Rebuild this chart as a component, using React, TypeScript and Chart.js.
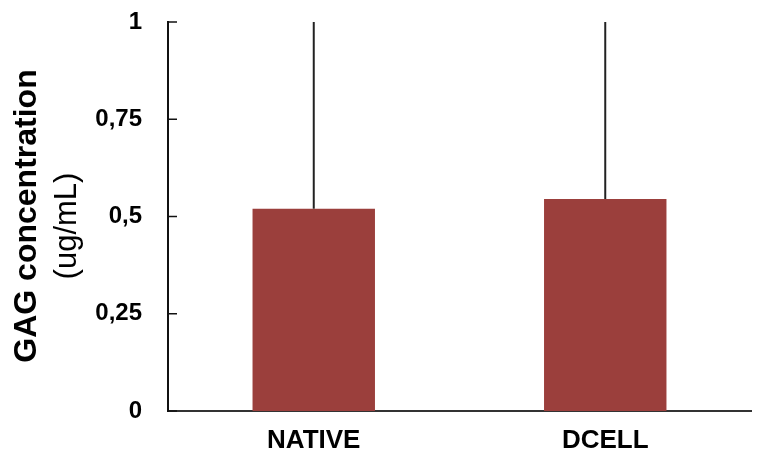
import React, { useEffect, useRef } from "react";
import { Chart, registerables } from "chart.js";

Chart.register(...registerables);

const categories = ["NATIVE", "DCELL"];
const means = [0.52, 0.545];
const errors = [0.48, 0.455];
const yTicks = [0, 0.25, 0.5, 0.75, 1];
const titleLines = ["GAG concentration", "(ug/mL)"];

const FONT = "Arial, 'Liberation Sans', sans-serif";

const extrasPlugin = {
  id: "extras",
  afterDatasetsDraw(chart: any) {
    const ctx = chart.ctx;
    const x = chart.scales.x;
    const y = chart.scales.y;
    const area = chart.chartArea;
    ctx.save();
    // error bars
    ctx.strokeStyle = "#222";
    ctx.lineWidth = 2;
    means.forEach((m, i) => {
      const px = x.getPixelForValue(i);
      ctx.beginPath();
      ctx.moveTo(px, y.getPixelForValue(m));
      ctx.lineTo(px, Math.max(area.top - 1, y.getPixelForValue(m + errors[i])));
      ctx.stroke();
    });
    // inward tick marks
    ctx.lineWidth = 1.5;
    ctx.strokeStyle = "#111";
    yTicks.forEach((t) => {
      const py = y.getPixelForValue(t);
      ctx.beginPath();
      ctx.moveTo(area.left, py);
      ctx.lineTo(area.left + 9, py);
      ctx.stroke();
    });
    // axis title
    ctx.fillStyle = "#000";
    ctx.textAlign = "center";
    ctx.textBaseline = "middle";
    ctx.save();
    ctx.translate(27, 216);
    ctx.rotate(-Math.PI / 2);
    ctx.font = "bold 32px " + FONT;
    ctx.fillText(titleLines[0], 0, 0);
    ctx.restore();
    ctx.save();
    ctx.translate(67, 226);
    ctx.rotate(-Math.PI / 2);
    ctx.font = "31px " + FONT;
    ctx.fillText(titleLines[1], 0, 0);
    ctx.restore();
    ctx.restore();
  },
};

export default function App() {
  const ref = useRef<HTMLCanvasElement | null>(null);
  useEffect(() => {
    if (!ref.current) return;
    const chart = new Chart(ref.current, {
      type: "bar",
      data: {
        labels: categories,
        datasets: [
          {
            data: means,
            backgroundColor: "#9B3F3C",
            categoryPercentage: 1,
            barPercentage: 0.42,
          },
        ],
      },
      options: {
        animation: false,
        responsive: false,
        layout: { padding: { top: 22, right: 6, left: 0, bottom: 0 } },
        plugins: { legend: { display: false }, tooltip: { enabled: false } },
        scales: {
          x: {
            grid: { display: false, drawTicks: false },
            border: { display: true, color: "#333", width: 2 },
            ticks: {
              color: "#000",
              padding: 14,
              font: { family: FONT, size: 26, weight: "bold" },
            },
            afterFit(scale: any) {
              scale.height = 46;
              scale.paddingLeft = 0;
              scale.paddingRight = 0;
            },
          },
          y: {
            min: 0,
            max: 1,
            afterBuildTicks(scale: any) {
              scale.ticks = yTicks.map((v) => ({ value: v }));
            },
            grid: { display: false, drawTicks: false },
            border: { display: true, color: "#111", width: 2 },
            ticks: {
              color: "#000",
              padding: 26,
              font: { family: FONT, size: 24, weight: "bold" },
              callback: (v: any) => String(v).replace(".", ","),
            },
            afterFit(scale: any) {
              scale.width = 168;
              scale.paddingTop = 0;
              scale.paddingBottom = 0;
            },
          },
        },
      },
      plugins: [extrasPlugin],
    });
    return () => chart.destroy();
  }, []);
  return (
    <div style={{ position: "fixed", left: 0, top: 0, width: 757, height: 457, background: "#fff" }}>
      <canvas ref={ref} width={757} height={457} />
    </div>
  );
}
